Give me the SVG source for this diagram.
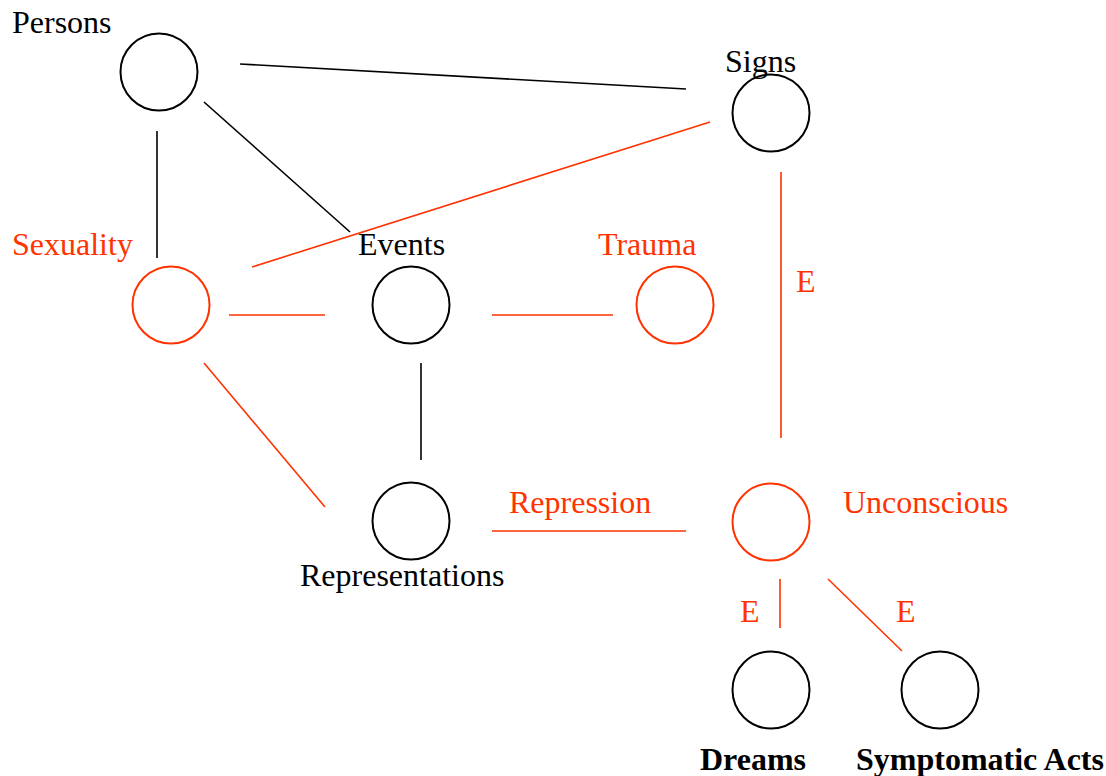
<svg xmlns="http://www.w3.org/2000/svg" width="1106" height="776" viewBox="0 0 1106 776">
<style>
text{font-family:"Liberation Serif","Times New Roman",serif;font-size:32px}
.k{fill:#000}.r{fill:#ff3300}.b{font-weight:bold}
circle{fill:none;stroke-width:2}
.ck{stroke:#000}.cr{stroke:#ff3300}
.lk{stroke:#000;stroke-width:1.6}.lr{stroke:#ff3300;stroke-width:1.6}
</style>
<rect width="1106" height="776" fill="#fff"/>
<g id="connectors">
<line class="lk" x1="240" y1="64" x2="686" y2="89"/>
<line class="lk" x1="204" y1="102" x2="350" y2="232"/>
<line class="lk" x1="157" y1="131" x2="157" y2="258"/>
<line class="lr" x1="710" y1="122" x2="252" y2="267"/>
<line class="lr" x1="229" y1="315" x2="325" y2="315"/>
<line class="lr" x1="492" y1="315" x2="613" y2="315"/>
<line class="lk" x1="421" y1="363" x2="421" y2="460"/>
<line class="lr" x1="204" y1="363" x2="325" y2="507"/>
<line class="lr" x1="492" y1="531" x2="686" y2="531"/>
<line class="lr" x1="781" y1="172" x2="781" y2="438"/>
<line class="lr" x1="780" y1="579" x2="780" y2="628"/>
<line class="lr" x1="828" y1="579" x2="902" y2="651"/>
<text class="r" x="796" y="292">E</text>
<text class="r" x="509" y="513">Repression</text>
<text class="r" x="740" y="622">E</text>
<text class="r" x="896" y="622">E</text>
</g>
<g id="persons"><circle class="ck" cx="159" cy="72" r="38.5"/><text class="k" x="12" y="33">Persons</text></g>
<g id="signs"><circle class="ck" cx="771" cy="113" r="38.5"/><text class="k" x="725" y="72">Signs</text></g>
<g id="sexuality"><circle class="cr" cx="171" cy="305" r="38.5"/><text class="r" x="12" y="255">Sexuality</text></g>
<g id="events"><circle class="ck" cx="411" cy="305" r="38.5"/><text class="k" x="358" y="255">Events</text></g>
<g id="trauma"><circle class="cr" cx="675" cy="305" r="38.5"/><text class="r" x="598" y="255">Trauma</text></g>
<g id="representations"><circle class="ck" cx="411" cy="521" r="38.5"/><text class="k" x="300" y="586">Representations</text></g>
<g id="unconscious"><circle class="cr" cx="771" cy="522" r="38.5"/><text class="r" x="843" y="513">Unconscious</text></g>
<g id="dreams"><circle class="ck" cx="771" cy="690" r="38.5"/><text class="k b" x="700" y="770">Dreams</text></g>
<g id="symptomatic"><circle class="ck" cx="940" cy="690" r="38.5"/><text class="k b" x="856" y="770">Symptomatic Acts</text></g>
</svg>
